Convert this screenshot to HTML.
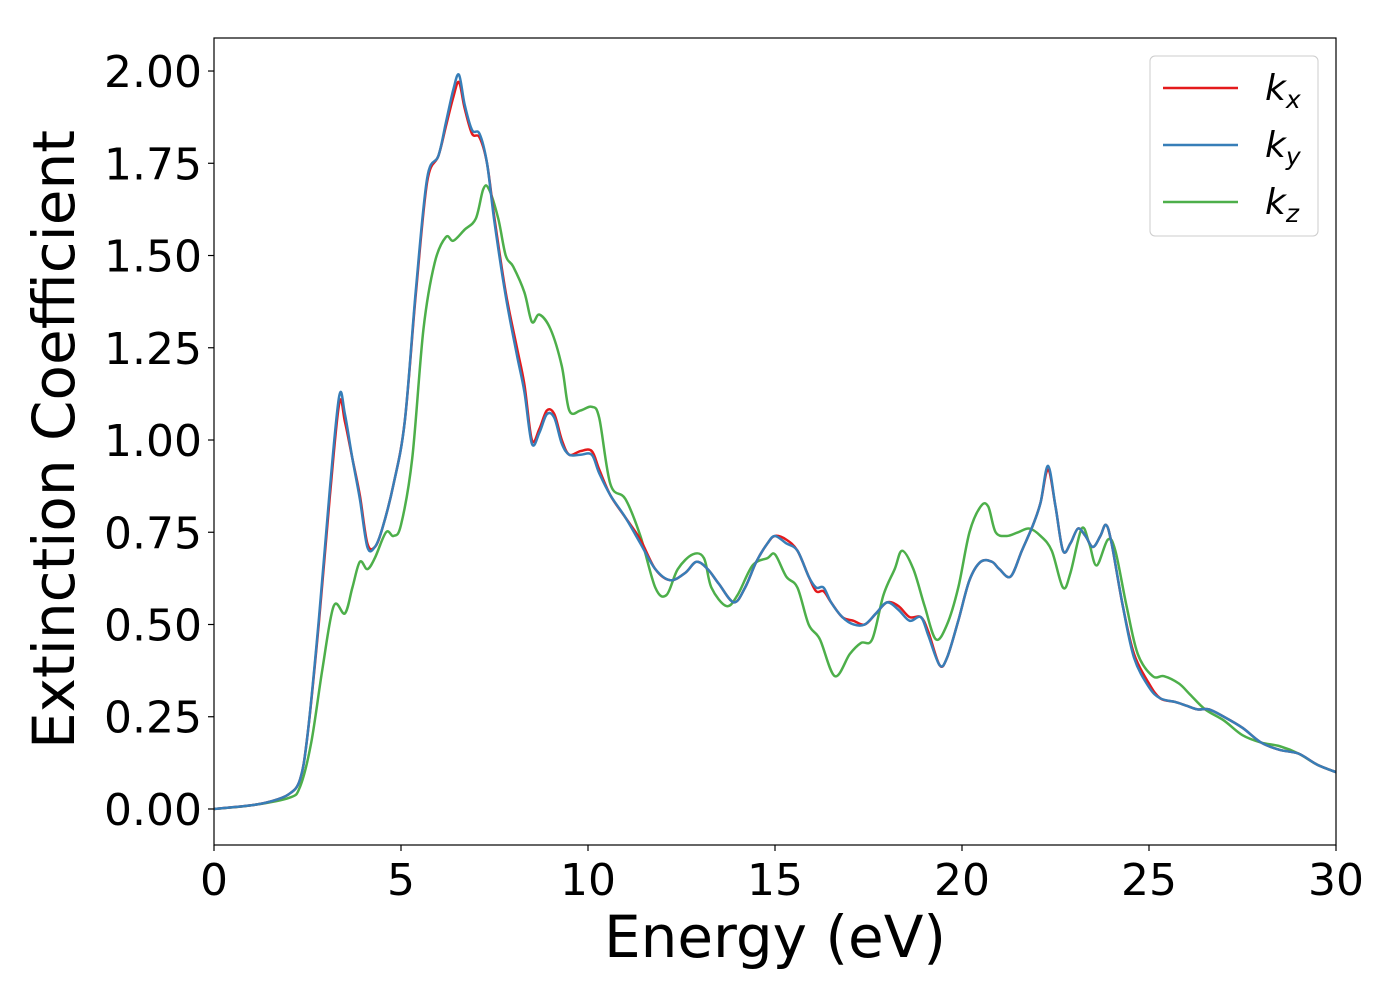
<!DOCTYPE html>
<html><head><meta charset="utf-8"><style>
body{margin:0;background:#fff;font-family:"Liberation Sans","DejaVu Sans",sans-serif}
</style></head><body>
<svg id="chart" width="1400" height="1000" xmlns="http://www.w3.org/2000/svg" font-family="'DejaVu Sans','Liberation Sans',sans-serif">
<rect width="1400" height="1000" fill="#fff"/>
<g id="plot"></g>
</svg>
<script>
const xTicks=[0,5,10,15,20,25,30];
const yTicks=[0,0.25,0.5,0.75,1.0,1.25,1.5,1.75,2.0];
const yTickLabels=["0.00","0.25","0.50","0.75","1.00","1.25","1.50","1.75","2.00"];
const kxE=[0,1,1.5,2,2.3,2.5,2.8,3.1,3.35,3.5,3.7,3.9,4.1,4.3,4.5,4.8,5.1,5.4,5.7,6.0,6.2,6.4,6.55,6.7,6.9,7.1,7.3,7.5,7.8,8.1,8.3,8.5,8.7,8.9,9.1,9.3,9.5,9.8,10.1,10.3,10.6,11.0,11.4,11.8,12.2,12.6,12.9,13.2,13.5,13.9,14.2,14.5,14.8,15.0,15.3,15.6,15.9,16.1,16.3,16.5,16.8,17.1,17.4,17.7,18.0,18.3,18.6,18.9,19.1,19.4,19.6,19.9,20.2,20.5,20.8,21.0,21.3,21.6,21.9,22.1,22.3,22.5,22.7,22.9,23.1,23.3,23.5,23.7,23.85,24.0,24.3,24.6,25.0,25.3,25.7,26.0,26.3,26.6,27.0,27.5,28.0,28.5,29.0,29.5,30];
const kxV=[0,0.01,0.02,0.04,0.08,0.2,0.5,0.85,1.1,1.05,0.95,0.85,0.72,0.71,0.76,0.88,1.05,1.4,1.7,1.77,1.85,1.93,1.97,1.9,1.83,1.82,1.75,1.6,1.4,1.25,1.15,1.0,1.03,1.08,1.07,1.0,0.96,0.97,0.97,0.92,0.85,0.79,0.73,0.65,0.62,0.64,0.67,0.65,0.61,0.56,0.6,0.67,0.72,0.74,0.73,0.7,0.63,0.59,0.59,0.56,0.52,0.51,0.5,0.53,0.56,0.55,0.52,0.52,0.48,0.39,0.41,0.51,0.62,0.67,0.67,0.65,0.63,0.7,0.77,0.83,0.92,0.82,0.7,0.72,0.76,0.74,0.71,0.74,0.77,0.72,0.55,0.42,0.34,0.3,0.29,0.28,0.27,0.27,0.25,0.22,0.18,0.16,0.15,0.12,0.1];
const kyE=kxE.slice();
const kyV=[0,0.01,0.02,0.04,0.08,0.2,0.51,0.87,1.12,1.07,0.95,0.84,0.71,0.71,0.76,0.88,1.05,1.41,1.71,1.77,1.86,1.95,1.99,1.91,1.84,1.83,1.75,1.59,1.39,1.23,1.13,0.99,1.02,1.07,1.06,0.99,0.96,0.96,0.96,0.91,0.85,0.79,0.72,0.65,0.62,0.64,0.67,0.65,0.61,0.56,0.6,0.67,0.72,0.74,0.72,0.7,0.63,0.6,0.6,0.56,0.52,0.5,0.5,0.53,0.56,0.54,0.51,0.52,0.47,0.39,0.41,0.51,0.62,0.67,0.67,0.65,0.63,0.7,0.77,0.83,0.93,0.82,0.7,0.72,0.76,0.74,0.71,0.74,0.77,0.72,0.55,0.41,0.33,0.3,0.29,0.28,0.27,0.27,0.25,0.22,0.18,0.16,0.15,0.12,0.1];
const kzE=[0,1,2,2.3,2.6,2.9,3.2,3.5,3.7,3.9,4.1,4.3,4.6,4.8,5.0,5.3,5.6,5.9,6.2,6.4,6.7,7.0,7.2,7.35,7.6,7.8,8.0,8.3,8.5,8.7,9.0,9.3,9.5,9.8,10.1,10.3,10.6,11.0,11.4,11.8,12.1,12.4,12.8,13.1,13.3,13.7,14.0,14.4,14.8,15.0,15.3,15.6,15.9,16.2,16.6,17.0,17.3,17.6,17.9,18.2,18.4,18.7,19.0,19.3,19.6,19.9,20.2,20.5,20.7,20.9,21.2,21.5,21.8,22.1,22.4,22.7,22.9,23.2,23.4,23.6,23.9,24.1,24.4,24.7,25.1,25.4,25.8,26.1,26.5,27.0,27.5,28.0,28.5,29.0,29.5,30];
const kzV=[0,0.01,0.03,0.06,0.18,0.38,0.55,0.53,0.6,0.67,0.65,0.68,0.75,0.74,0.77,0.95,1.3,1.48,1.55,1.54,1.57,1.6,1.68,1.68,1.6,1.5,1.47,1.4,1.32,1.34,1.3,1.2,1.08,1.08,1.09,1.06,0.88,0.84,0.74,0.6,0.58,0.65,0.69,0.68,0.6,0.55,0.58,0.66,0.68,0.69,0.63,0.6,0.5,0.46,0.36,0.42,0.45,0.46,0.58,0.65,0.7,0.65,0.55,0.46,0.5,0.6,0.75,0.82,0.82,0.75,0.74,0.75,0.76,0.74,0.7,0.6,0.64,0.76,0.72,0.66,0.73,0.7,0.55,0.42,0.36,0.36,0.34,0.31,0.27,0.24,0.2,0.18,0.17,0.15,0.12,0.1];

const L=214,R=1336,T=38,B=845;
const xMin=0,xMax=30,yMin=-0.0976,yMax=2.0895;
const sx=v=>L+(v-xMin)/(xMax-xMin)*(R-L);
const sy=v=>B-(v-yMin)/(yMax-yMin)*(B-T);
const NS="http://www.w3.org/2000/svg";
const g=document.getElementById('plot');
function mk(t,a,txt){const e=document.createElementNS(NS,t);for(const k in a)e.setAttribute(k,a[k]);if(txt!=null)e.textContent=txt;g.appendChild(e);return e;}
function path(E,V){const p=E.map((e,i)=>[sx(e),sy(V[i])]);let d=`M${p[0][0]},${p[0][1]}`;
for(let i=0;i<p.length-1;i++){const p0=p[Math.max(0,i-1)],p1=p[i],p2=p[i+1],p3=p[Math.min(p.length-1,i+2)];
d+=` C${p1[0]+(p2[0]-p0[0])/6},${p1[1]+(p2[1]-p0[1])/6} ${p2[0]-(p3[0]-p1[0])/6},${p2[1]-(p3[1]-p1[1])/6} ${p2[0]},${p2[1]}`;}return d;}
const defs=mk('clipPath',{id:'clip'});const cr=document.createElementNS(NS,'rect');cr.setAttribute('x',L);cr.setAttribute('y',T);cr.setAttribute('width',R-L);cr.setAttribute('height',B-T);defs.appendChild(cr);
const series=[[kzE,kzV,'#4daf4a','line-kz'],[kxE,kxV,'#e41a1c','line-kx'],[kyE,kyV,'#377eb8','line-ky']];
series.forEach(s=>{const e=mk('path',{d:path(s[0],s[1]),fill:'none',stroke:s[2],'stroke-width':2.5,'clip-path':'url(#clip)'});

});
const fr=mk('rect',{x:L,y:T,width:R-L,height:B-T,fill:'none',stroke:'#000','stroke-width':1.2});


xTicks.forEach(v=>{mk('line',{x1:sx(v),x2:sx(v),y1:B,y2:B+6,stroke:'#000','stroke-width':1.2});
const t=mk('text',{x:sx(v),y:B+50,'font-size':44,'text-anchor':'middle'},String(v));

});
yTicks.forEach((v,i)=>{mk('line',{x1:L-6,x2:L,y1:sy(v),y2:sy(v),stroke:'#000','stroke-width':1.2});
const t=mk('text',{x:L-12,y:sy(v)+16,'font-size':44,'text-anchor':'end'},yTickLabels[i]);

});
const xt=mk('text',{x:(L+R)/2,y:957,'font-size':58,'text-anchor':'middle'},'Energy (eV)');


const yt=mk('text',{x:0,y:0,'font-size':58,'text-anchor':'middle',transform:`translate(74,${(T+B)/2-2}) rotate(-90)`},'Extinction Coefficient');


const lg=mk('rect',{x:1150,y:56,width:168,height:180,rx:5,fill:'#fff','fill-opacity':0.8,stroke:'#ccc','stroke-width':1});


[['#e41a1c','x',88],['#377eb8','y',145],['#4daf4a','z',202]].forEach(l=>{
mk('line',{x1:1163,x2:1238,y1:l[2],y2:l[2],stroke:l[0],'stroke-width':2.5});
const t=mk('text',{x:1265,y:l[2]+12,'font-size':36,'font-style':'italic'});


t.innerHTML=`k<tspan font-size="25" dy="8">${l[1]}</tspan>`;});
</script>
</body></html>
